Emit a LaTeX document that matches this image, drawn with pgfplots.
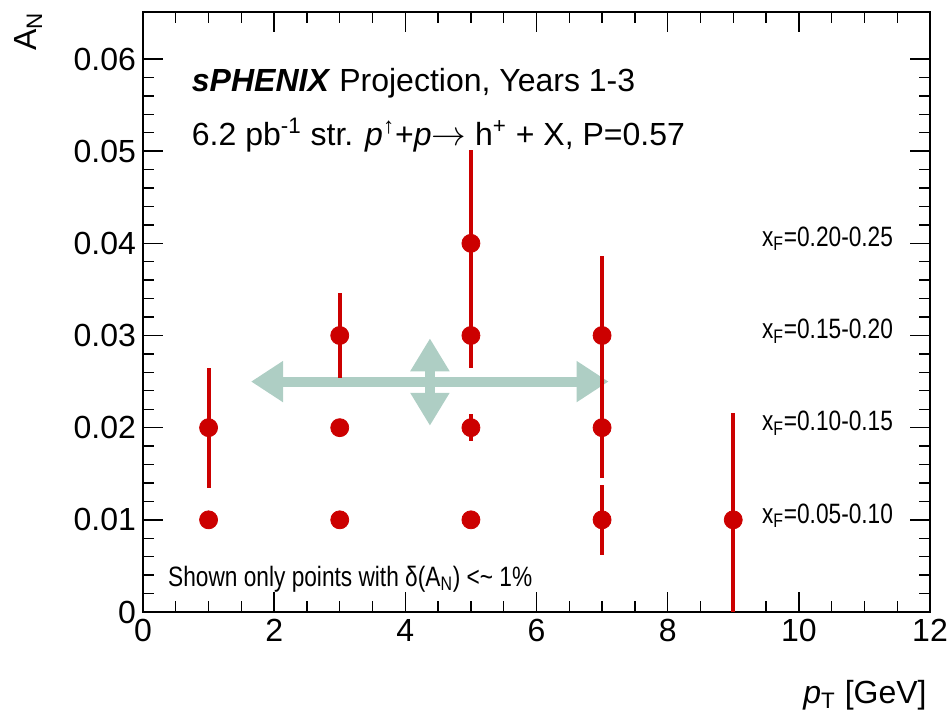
\documentclass[border=0pt]{standalone}
\usepackage{fontspec}
\setmainfont{Liberation Sans}
\usepackage{pgfplots}
\pgfplotsset{compat=1.18}
\usetikzlibrary{arrows.meta}
\definecolor{rootred}{RGB}{204,0,0}
\definecolor{arrowgreen}{RGB}{174,206,196}
\newcommand{\bigf}{\fontsize{16}{19}\selectfont}
\newcommand{\smallf}{\fontsize{14}{17}\selectfont}
\begin{document}
\begin{tikzpicture}
\begin{axis}[
  scale only axis, width=393.5pt, height=300pt,
  xmin=0, xmax=12, ymin=0, ymax=0.0651,
  xtick={0,2,4,6,8,10,12}, xticklabels={0,2,4,6,8,10,12},
  ytick={0,0.01,0.02,0.03,0.04,0.05,0.06},
  yticklabels={0,0.01,0.02,0.03,0.04,0.05,0.06},
  minor x tick num=3, minor y tick num=4,
  tick align=inside, major tick length=10pt, minor tick length=5.5pt,
  axis line style={line width=1pt},
  every tick/.style={black, line width=0.7pt},
  tick label style={font=\bigf},
  xlabel={\textit{p}\textsubscript{T} [GeV]},
  xlabel style={at={(rel axis cs:0.9962,-0.1517)}, anchor=base east, inner sep=0pt, font=\bigf},
  ylabel={A\textsubscript{N}},
  ylabel style={at={(rel axis cs:-0.1347,1)}, anchor=base east, inner sep=0pt, font=\bigf},
]
% arrows
\addplot[arrowgreen, line width=5pt, no markers,
  {Triangle[length=16pt,width=19.5pt]}-{Triangle[length=16pt,width=19.5pt]}]
  coordinates {(1.647,0.025) (7.1,0.025)};
\addplot[arrowgreen, line width=5pt, no markers,
  {Triangle[length=16.5pt,width=18.5pt]}-{Triangle[length=16.5pt,width=18.5pt]}]
  coordinates {(4.375,0.0202) (4.375,0.0297)};
% data
\addplot[only marks, mark=*, mark size=4.5pt, color=rootred,
  error bars/.cd, y dir=both, y explicit, error mark=none,
  error bar style={line width=2pt, rootred}]
  table[x=x, y=y, y error=e] {
x y e
1 0.01 0
1 0.02 0.0065
3 0.01 0
3 0.02 0
3 0.03 0.0046
5 0.01 0
5 0.02 0.0015
5 0.03 0.0035
5 0.04 0.0101
7 0.01 0.0038
7 0.02 0.0055
7 0.03 0.0086
9 0.01 0.0116
};
\node[anchor=base west, inner sep=0pt, font=\bigf] at (axis cs:0.74,0.0565)
  {\textbf{\textit{sPHENIX}} Projection, Years 1-3};
\node[anchor=base west, inner sep=0pt, font=\bigf] at (axis cs:0.74,0.0506)
  {6.2 pb\textsuperscript{-1} str. \textit{p}\textsuperscript{↑}+\textit{p}$\rightarrow$ h\textsuperscript{+} + X, P=0.57};
\node[anchor=base east, inner sep=0pt, font=\smallf, xscale=0.81] at (axis cs:11.44,0.03965) {x\textsubscript{F}=0.20-0.25};
\node[anchor=base east, inner sep=0pt, font=\smallf, xscale=0.81] at (axis cs:11.44,0.02965) {x\textsubscript{F}=0.15-0.20};
\node[anchor=base east, inner sep=0pt, font=\smallf, xscale=0.81] at (axis cs:11.44,0.01965) {x\textsubscript{F}=0.10-0.15};
\node[anchor=base east, inner sep=0pt, font=\smallf, xscale=0.81] at (axis cs:11.44,0.00965) {x\textsubscript{F}=0.05-0.10};
\node[anchor=base west, inner sep=0pt, font=\smallf, xscale=0.81] at (axis cs:0.38,0.00275)
  {Shown only points with δ(A\textsubscript{N}) <\textasciitilde{} 1\%};
\end{axis}
\pgfresetboundingbox
\path[use as bounding box] ([shift={(-71.5pt,-53pt)}]current axis.south west) rectangle ([shift={(9pt,6pt)}]current axis.north east);
\end{tikzpicture}
\end{document}
